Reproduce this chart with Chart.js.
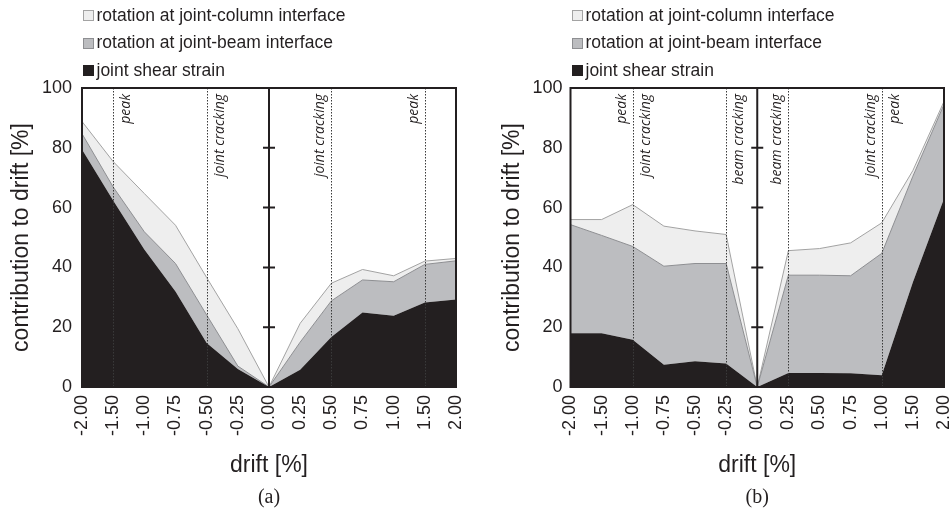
<!DOCTYPE html>
<html>
<head>
<meta charset="utf-8">
<title>Drift contributions</title>
<script src="https://cdn.jsdelivr.net/npm/chart.js@4.4.0/dist/chart.umd.min.js"></script>
<style>
    html, body { margin: 0; padding: 0; background: #ffffff; }
    .wrap { display: flex; width: 952px; height: 513px; }
    canvas { display: block; }
</style>
</head>
<body>
<div class="wrap">
    <canvas id="chartA" width="476" height="513"></canvas>
    <canvas id="chartB" width="476" height="513"></canvas>
</div>
<script>
// ==========================================
// DATA
// ==========================================

const driftLabels = ['-2.00', '-1.50', '-1.00', '-0.75', '-0.50', '-0.25', '0.00',
                     '0.25', '0.50', '0.75', '1.00', '1.50', '2.00'];

const seriesNames = ['joint shear strain', 'rotation at joint-beam interface', 'rotation at joint-column interface'];

// panel (a) - contributions in % (stacked)
const shearA  = [79.4, 62.4, 46.0, 31.9, 14.7, 6.0, 0, 5.8, 16.7, 24.9, 23.8, 28.3, 29.3];
const beamA   = [5.3, 4.5, 5.9, 9.4, 9.4, 1.0, 0, 9.2, 12.1, 10.9, 11.4, 12.7, 12.9];
const columnA = [4.1, 8.5, 12.8, 12.8, 12.5, 12.5, 0, 6.3, 5.9, 3.5, 2.0, 1.1, 0.8];

// panel (b)
const shearB  = [18.0, 18.0, 15.8, 7.4, 8.6, 7.9, 0, 4.7, 4.7, 4.6, 3.9, 35.0, 63.0];
const beamB   = [36.3, 32.7, 31.2, 33.0, 32.7, 33.4, 0, 32.7, 32.7, 32.6, 40.8, 35.5, 31.5];
const columnB = [1.7, 5.3, 14.0, 13.4, 10.9, 9.7, 0, 8.2, 8.9, 11.0, 10.2, 1.9, 1.0];

// event markers: drift, text left of the line, text right of the line
const markerDriftA = ['-1.50', '-0.50', '0.50', '1.50'];
const markerLeftA  = [null, null, 'joint cracking', 'peak'];
const markerRightA = ['peak', 'joint cracking', null, null];

const markerDriftB = ['-1.00', '-0.25', '0.25', '1.00'];
const markerLeftB  = ['peak', null, 'beam cracking', 'joint cracking'];
const markerRightB = ['joint cracking', 'beam cracking', null, 'peak'];

const centerTicks = [20, 40, 60, 80];

// ==========================================
// STYLE
// ==========================================

const INK = '#231f20';
const FILLS = ['#231f20', '#bcbdc0', '#eeeeee'];
const EDGES = ['#231f20', '#8e8f92', '#a3a3a3'];

Chart.defaults.font.family = '"Liberation Sans", Arial, sans-serif';
Chart.defaults.color = INK;

// frame, centre axis, event lines, annotations and legend
const decorPlugin = {
    id: 'decor',
    afterDatasetsDraw(chart, args, opts) {
        const { ctx, chartArea: a } = chart;
        const x = chart.scales.x;
        const y = chart.scales.y;
        ctx.save();

        // dotted event lines
        ctx.strokeStyle = '#3a3a3a';
        ctx.lineWidth = 1;
        ctx.setLineDash([1.5, 1.5]);
        opts.drifts.forEach(d => {
            const px = Math.round(x.getPixelForValue(driftLabels.indexOf(d))) + 0.5;
            ctx.beginPath();
            ctx.moveTo(px, a.top);
            ctx.lineTo(px, a.bottom);
            ctx.stroke();
        });
        ctx.setLineDash([]);

        // centre axis at 0.00 with cross ticks
        const cx = x.getPixelForValue(driftLabels.indexOf('0.00'));
        ctx.strokeStyle = INK;
        ctx.lineWidth = 2;
        ctx.beginPath();
        ctx.moveTo(cx, a.top);
        ctx.lineTo(cx, a.bottom);
        centerTicks.forEach(v => {
            const py = y.getPixelForValue(v);
            ctx.moveTo(cx - 6, py);
            ctx.lineTo(cx + 6, py);
        });
        ctx.stroke();

        // plot frame
        ctx.strokeRect(a.left, a.top, a.right - a.left, a.bottom - a.top);

        // event texts, rotated
        ctx.font = 'italic 14px "Open Sans", "Noto Sans", sans-serif';
        ctx.fillStyle = INK;
        ctx.textAlign = 'right';
        ctx.textBaseline = 'middle';
        opts.drifts.forEach((d, i) => {
            const px = x.getPixelForValue(driftLabels.indexOf(d));
            const put = (text, tx) => {
                if (!text) return;
                ctx.save();
                ctx.translate(tx, a.top + 6);
                ctx.rotate(-Math.PI / 2);
                ctx.fillText(text, 0, 0);
                ctx.restore();
            };
            put(opts.leftTexts[i], px - 11);
            put(opts.rightTexts[i], px + 13);
        });

        // legend (top series first)
        ctx.font = '17.5px "Liberation Sans", Arial, sans-serif';
        ctx.textAlign = 'left';
        ctx.textBaseline = 'middle';
        ctx.lineWidth = 1;
        const ds = chart.data.datasets.slice().reverse();
        ds.forEach((set, i) => {
            const rowY = 15 + i * 27.5;
            const sx = Math.round(a.left + 1) + 0.5;
            ctx.fillStyle = set.backgroundColor;
            ctx.fillRect(sx, Math.round(rowY - 5) + 0.5, 10, 10);
            ctx.strokeStyle = set.borderColor;
            ctx.strokeRect(sx, Math.round(rowY - 5) + 0.5, 10, 10);
            ctx.fillStyle = INK;
            ctx.fillText(set.label, sx + 13, rowY + 1);
        });

        ctx.restore();
    }
};

// ==========================================
// CHART FACTORY
// ==========================================

const buildChart = (canvasId, shear, beam, column, drifts, leftTexts, rightTexts, panel, geo) => {
    const ctx = document.getElementById(canvasId).getContext('2d');
    const series = [shear, beam, column];
    return new Chart(ctx, {
        type: 'line',
        data: {
            labels: driftLabels,
            datasets: series.map((values, i) => ({
                label: seriesNames[i],
                data: values,
                backgroundColor: FILLS[i],
                borderColor: EDGES[i],
                borderWidth: i === 0 ? 0 : 1,
                fill: i === 0 ? 'origin' : '-1',
                pointRadius: 0,
                pointHoverRadius: 0,
                tension: 0
            }))
        },
        options: {
            responsive: false,
            animation: false,
            events: [],
            layout: {
                padding: { top: 88, right: geo.rightPad, left: 0, bottom: 0 }
            },
            plugins: {
                legend: { display: false },
                tooltip: { enabled: false },
                title: {
                    display: true,
                    position: 'bottom',
                    fullSize: false,
                    text: panel,
                    color: INK,
                    font: { family: '"Liberation Serif", "Times New Roman", serif', size: 20, weight: 'normal' },
                    padding: { top: 0, bottom: 3 }
                },
                decor: { drifts, leftTexts, rightTexts }
            },
            scales: {
                x: {
                    type: 'category',
                    offset: false,
                    grid: { display: false, drawTicks: false },
                    border: { display: false },
                    ticks: {
                        autoSkip: false,
                        maxRotation: 90,
                        minRotation: 90,
                        padding: 8,
                        font: { size: 18 },
                        color: INK
                    },
                    title: {
                        display: true,
                        text: 'drift [%]',
                        color: INK,
                        font: { size: 23 },
                        padding: { top: 0, bottom: 7 }
                    },
                    afterFit: s => {
                        s.height = 99;
                        s.paddingLeft = 0;
                        s.paddingRight = 0;
                    }
                },
                y: {
                    stacked: true,
                    min: 0,
                    max: 100,
                    grid: { display: false, drawTicks: false },
                    border: { display: false },
                    ticks: {
                        stepSize: 20,
                        padding: geo.tickPad,
                        font: { size: 18 },
                        color: INK
                    },
                    title: {
                        display: true,
                        text: 'contribution to drift [%]',
                        color: INK,
                        font: { size: 23 },
                        padding: { top: geo.titlePad, bottom: 0 }
                    },
                    afterFit: s => {
                        s.width = geo.axisWidth;
                        s.paddingTop = 0;
                        s.paddingBottom = 0;
                    }
                }
            }
        },
        plugins: [decorPlugin]
    });
};

window.chartA = buildChart('chartA', shearA, beamA, columnA,
    markerDriftA, markerLeftA, markerRightA, '(a)',
    { axisWidth: 82, rightPad: 20, tickPad: 10, titlePad: 8 });

window.chartB = buildChart('chartB', shearB, beamB, columnB,
    markerDriftB, markerLeftB, markerRightB, '(b)',
    { axisWidth: 94.5, rightPad: 8, tickPad: 8, titlePad: 23 });
</script>
</body>
</html>
